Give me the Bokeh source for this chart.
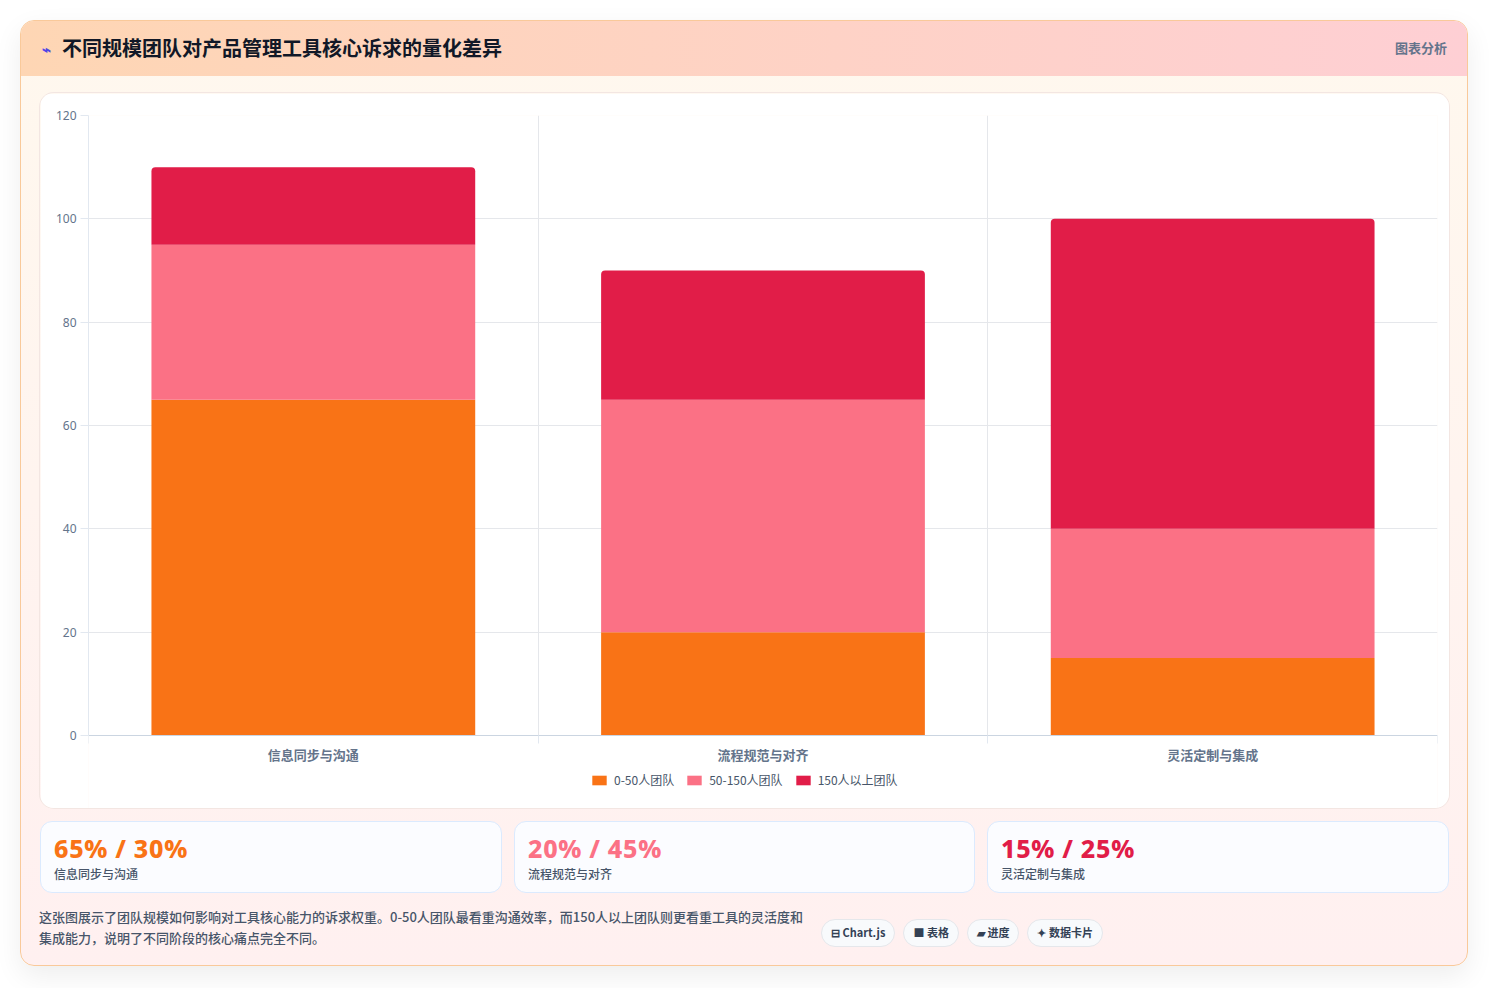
from bokeh.plotting import figure
from bokeh.models import ColumnDataSource, Range1d, FixedTicker, Legend, Div
from bokeh.layouts import column, row
from bokeh.embed import file_html
from bokeh.resources import INLINE

title = "不同规模团队对产品管理工具核心诉求的量化差异"
tag = "图表分析"
categories = ["信息同步与沟通", "流程规范与对齐", "灵活定制与集成"]
series_names = ["0-50人团队", "50-150人团队", "150人以上团队"]
small_team = [65, 20, 15]
mid_team = [30, 45, 25]
large_team = [15, 25, 60]
colors = ["#f97316", "#fb7185", "#e11d48"]
y_ticks = [0, 20, 40, 60, 80, 100, 120]
footer_text = ("这张图展示了团队规模如何影响对工具核心能力的诉求权重。0-50人团队最看重沟通效率，"
               "而150人以上团队则更看重工具的灵活度和集成能力，说明了不同阶段的核心痛点完全不同。")
badges = ["⊟ Chart.js", "■ 表格", "▰ 进度", "✦ 数据卡片"]

CJK = "'Noto Sans CJK SC', 'Noto Sans', sans-serif"

# --- header
header = Div(
    text=f"""<div style="display:flex;justify-content:space-between;align-items:center;
    width:1446px;height:55px;box-sizing:border-box;padding:0 20px 0 21px;font-family:{CJK};">
    <div style="display:flex;align-items:center;gap:11px;">
      <span style="color:#4f46e5;font-size:15px;font-weight:700;">⌁</span>
      <span style="font-size:20px;font-weight:700;color:#111827;">{title}</span></div>
    <span style="font-size:13px;font-weight:600;color:#64748b;">{tag}</span></div>""",
    width=1446, height=55,
    styles={"background": "linear-gradient(90deg, #fed6b4, #fecfd4)"},
)
header.margin = 0

# --- chart
# the frame reaches below zero so that the legend can sit under the axis labels
FIG_H, TOP, PLOT_H = 715, 22, 620
y_low = -y_ticks[-1] * (FIG_H - TOP - PLOT_H) / PLOT_H

x = [i + 0.5 for i in range(len(categories))]
bounds = list(range(len(categories) + 1))
source = ColumnDataSource(dict(x=x, s0=small_team, s1=mid_team, s2=large_team))

p = figure(width=1409, height=FIG_H, x_range=Range1d(0, len(categories)),
           y_range=Range1d(y_low, y_ticks[-1]),
           toolbar_location=None, output_backend="svg",
           min_border_left=48, min_border_right=12, min_border_top=TOP, min_border_bottom=0,
           background_fill_color="white", border_fill_color="white",
           outline_line_color=None,
           styles={"border-radius": "14px", "overflow": "hidden",
                   "box-shadow": "0 0 0 1px #f3e6e2"})
p.margin = (17, 18, 0, 19)

rs = p.vbar_stack(["s0", "s1", "s2"], x="x", width=0.72, color=colors, source=source,
                  line_width=0)
rs[-1].glyph.border_radius = (4, 4, 0, 0)

legend = Legend(items=[(n, [r]) for n, r in zip(series_names, rs)],
                orientation="horizontal", location=(502, 20),
                glyph_width=18, glyph_height=12, label_standoff=6, spacing=11,
                padding=4, margin=0, border_line_color=None, background_fill_alpha=0,
                label_text_font_size="12px", label_text_color="#475569",
                label_text_font="Noto Sans CJK SC", label_height=14)
p.add_layout(legend)

p.xaxis.fixed_location = 0
p.xaxis.ticker = FixedTicker(ticks=x, minor_ticks=bounds)
p.xaxis.major_label_overrides = {xx: c for xx, c in zip(x, categories)}
p.xaxis.axis_line_color = "#cbd5e1"
p.xaxis.major_tick_line_color = None
p.xaxis.major_tick_out = 4
p.xaxis.minor_tick_line_color = "#e2e8f0"
p.xaxis.minor_tick_out = 8
p.xaxis.minor_tick_in = 0
p.xaxis.major_label_standoff = 1
p.xaxis.major_label_text_font_size = "13px"
p.xaxis.major_label_text_color = "#64748b"
p.xaxis.major_label_text_font = "Noto Sans CJK SC"
p.xaxis.major_label_text_font_style = "bold"

p.yaxis.bounds = (y_ticks[0], y_ticks[-1])
p.yaxis.ticker = FixedTicker(ticks=y_ticks, minor_ticks=[])
p.yaxis.axis_line_color = "#e2e8f0"
p.yaxis.major_tick_line_color = "#e2e8f0"
p.yaxis.major_tick_out = 8
p.yaxis.major_tick_in = 0
p.yaxis.major_label_standoff = 4
p.yaxis.major_label_text_font_size = "12px"
p.yaxis.major_label_text_color = "#64748b"
p.yaxis.major_label_text_font = "Noto Sans"

p.xgrid.ticker = FixedTicker(ticks=bounds)
p.xgrid.cross_bounds = (y_ticks[0], y_ticks[-1])
p.xgrid.grid_line_color = "#e5e7eb"
p.ygrid.grid_line_color = "#e5e7eb"

# --- stat cards
cards = []
for i, c in enumerate(categories):
    d = Div(
        text=f"""<div style="padding:10px 13px;font-family:{CJK};">
        <div style="font-family:'Noto Sans',sans-serif;font-size:25px;font-weight:800;letter-spacing:0.7px;
        color:{colors[i]};line-height:32px;">{small_team[i]}% / {mid_team[i]}%</div>
        <div style="font-size:12px;color:#475569;font-weight:500;margin-top:1px;">{c}</div></div>""",
        width=462 if i != 1 else 461, height=72,
        styles={"background": "#fbfcff", "border": "1px solid #dbeafe",
                "border-radius": "12px", "box-sizing": "border-box"})
    d.margin = 0
    cards.append(d)
stats = row(*cards, spacing=12)
stats.margin = (13, 0, 0, 19)

# --- footer
badge_html = "".join(
    f"""<span style="display:inline-flex;align-items:center;height:28px;box-sizing:border-box;
    padding:0 9px;margin-right:8px;border:1px solid #e5e7eb;border-radius:999px;background:#f8fafc;
    font-size:11px;font-weight:700;color:#334155;">{b}</span>""" for b in badges)
footer = Div(
    text=f"""<div style="display:flex;align-items:center;gap:16px;font-family:{CJK};height:60px;">
    <div style="width:766px;font-size:13px;line-height:21px;color:#475569;font-weight:500;">{footer_text}</div>
    <div style="display:flex;margin-top:12px;">{badge_html}</div></div>""",
    width=1409, height=60)
footer.margin = (4, 0, 0, 18)

outer = column(header, p, stats, footer, width=1448, height=946,
               styles={"background": "linear-gradient(180deg, #fff8ee, #fff0f0)",
                       "border": "1px solid #f9c99a", "border-radius": "14px",
                       "overflow": "hidden", "box-sizing": "border-box",
                       "box-shadow": "0 10px 28px rgba(0,0,0,0.07)"})
outer.margin = (20, 0, 0, 20)

open("out.html", "w").write(file_html(outer, INLINE))
